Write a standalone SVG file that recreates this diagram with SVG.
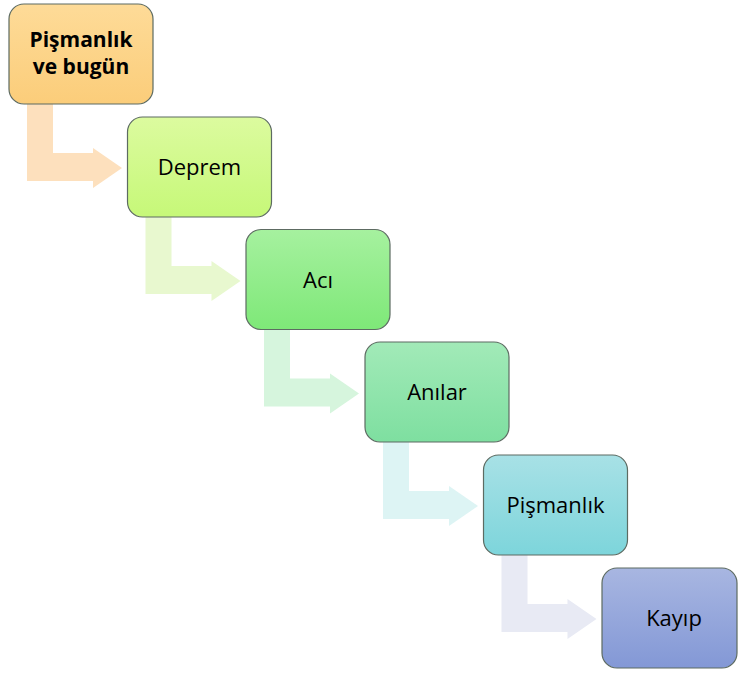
<svg xmlns="http://www.w3.org/2000/svg" width="739" height="673" viewBox="0 0 739 673">
<defs>
<linearGradient id="g1" x1="0" y1="0" x2="0" y2="1"><stop offset="0" stop-color="#fedb98"/><stop offset="1" stop-color="#fbcd7a"/></linearGradient>
<linearGradient id="g2" x1="0" y1="0" x2="0" y2="1"><stop offset="0" stop-color="#dcfb9f"/><stop offset="1" stop-color="#c6f878"/></linearGradient>
<linearGradient id="g3" x1="0" y1="0" x2="0" y2="1"><stop offset="0" stop-color="#a6f19f"/><stop offset="1" stop-color="#7ee878"/></linearGradient>
<linearGradient id="g4" x1="0" y1="0" x2="0" y2="1"><stop offset="0" stop-color="#a2eab8"/><stop offset="1" stop-color="#7edfa0"/></linearGradient>
<linearGradient id="g5" x1="0" y1="0" x2="0" y2="1"><stop offset="0" stop-color="#a8e1e6"/><stop offset="1" stop-color="#7dd5db"/></linearGradient>
<linearGradient id="g6" x1="0" y1="0" x2="0" y2="1"><stop offset="0" stop-color="#a8b6e1"/><stop offset="1" stop-color="#8398d6"/></linearGradient>
</defs>
<style>
.box{stroke:#5d6b62;stroke-width:1.2}
.t{font-family:"Open Sans","Liberation Sans",sans-serif;font-size:22px;fill:#000;text-anchor:middle}
.b{font-weight:bold;font-size:21px}
</style>
<g id="connectors">
<path fill="#fde0bd" d="M27,104 L53,104 L53,153 L93,153 L93,148 L122,168 L93,188 L93,181 L27,181 Z"/>
<path fill="#e8f8cf" d="M145.5,217 L171.5,217 L171.5,266 L211.5,266 L211.5,261 L240.5,281 L211.5,301 L211.5,294 L145.5,294 Z"/>
<path fill="#d6f5dd" d="M264,329.5 L290,329.5 L290,378.5 L330,378.5 L330,373.5 L359,393.5 L330,413.5 L330,406.5 L264,406.5 Z"/>
<path fill="#ddf4f4" d="M383,442 L409,442 L409,491 L449,491 L449,486 L478,506 L449,526 L449,519 L383,519 Z"/>
<path fill="#e8eaf4" d="M501.5,555 L527.5,555 L527.5,604 L567.5,604 L567.5,599 L596.5,619 L567.5,639 L567.5,632 L501.5,632 Z"/>
</g>
<g id="n1"><rect class="box" x="9" y="4" width="144" height="100" rx="15" fill="url(#g1)"/><text class="t b" x="81" y="47">Pişmanlık</text><text class="t b" x="81" y="74">ve bugün</text></g>
<g id="n2"><rect class="box" x="127.5" y="117" width="144" height="100" rx="15" fill="url(#g2)"/><text class="t" x="199.5" y="175">Deprem</text></g>
<g id="n3"><rect class="box" x="246" y="229.5" width="144" height="100" rx="15" fill="url(#g3)"/><text class="t" x="318" y="287.5">Acı</text></g>
<g id="n4"><rect class="box" x="365" y="342" width="144" height="100" rx="15" fill="url(#g4)"/><text class="t" x="437" y="400">Anılar</text></g>
<g id="n5"><rect class="box" x="483.5" y="455" width="144" height="100" rx="15" fill="url(#g5)"/><text class="t" x="555.5" y="513">Pişmanlık</text></g>
<g id="n6"><rect class="box" x="602" y="568" width="135" height="100" rx="15" fill="url(#g6)"/><text class="t" x="674" y="626">Kayıp</text></g>
</svg>
